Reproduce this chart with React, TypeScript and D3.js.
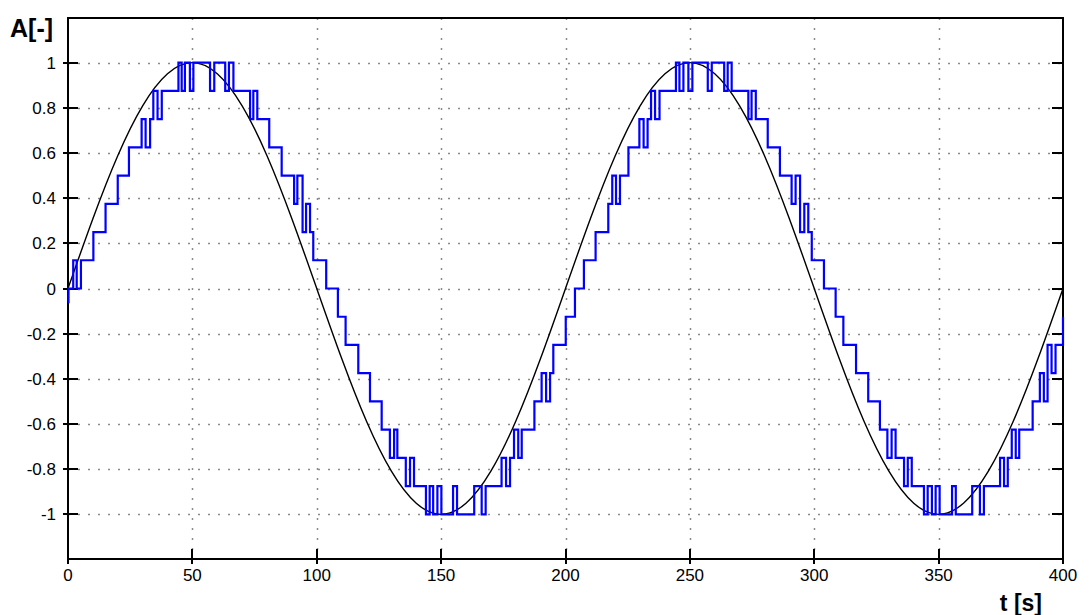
import React from "react";
import * as d3 from "d3";

// Axis ticks and their labels
const xTicks = [0, 50, 100, 150, 200, 250, 300, 350, 400];
const xTickLabels = ["0", "50", "100", "150", "200", "250", "300", "350", "400"];
const yTicks = [-1, -0.8, -0.6, -0.4, -0.2, 0, 0.2, 0.4, 0.6, 0.8, 1];
const yTickLabels = ["-1", "-0.8", "-0.6", "-0.4", "-0.2", "0", "0.2", "0.4", "0.6", "0.8", "1"];

// Reference sine, sampled every 10 s
const sineTimes = [
  0, 10, 20, 30, 40, 50, 60, 70, 80, 90, 100, 110, 120, 130, 140, 150, 160, 170, 180, 190,
  200, 210, 220, 230, 240, 250, 260, 270, 280, 290, 300, 310, 320, 330, 340, 350, 360, 370, 380, 390, 400,
];
const sineValues = [
  0, 0.309, 0.588, 0.809, 0.951, 1, 0.951, 0.809, 0.588, 0.309,
  0, -0.309, -0.588, -0.809, -0.951, -1, -0.951, -0.809, -0.588, -0.309,
  0, 0.309, 0.588, 0.809, 0.951, 1, 0.951, 0.809, 0.588, 0.309,
  0, -0.309, -0.588, -0.809, -0.951, -1, -0.951, -0.809, -0.588, -0.309, 0,
];

// Quantized output: switching instants [s] and the level held after each
const stepTimes = [
  0, 0.2, 2.1, 3.5, 5.2, 10.2, 15.1, 20.0, 24.5, 29.6, 31.2, 33.0, 34.3, 36.0, 37.7,
  44.4, 45.7, 47.0, 49.0, 50.4, 57.1, 58.8, 63.2, 64.7, 66.5, 73.2, 74.5, 76.1, 80.9, 85.9,
  90.9, 92.2, 94.3, 95.7, 97.3, 98.6, 103.8, 108.5, 111.6, 116.7, 121.4, 126.1, 129.4, 131.1, 132.4,
  135.8, 137.5, 139.1, 143.9, 145.4, 146.8, 148.5, 150.1, 154.8, 156.4, 163.3, 166.3, 167.9,
  174.3, 176.1, 177.7, 179.3, 181.0, 182.4, 187.5, 190.4, 192.2, 193.8, 195.1, 200.1, 203.8,
  207.4, 212.1, 217.2, 218.8, 220.3, 221.9, 225.3, 229.7, 231.4, 233.0, 234.4, 236.0, 237.8,
  244.4, 245.8, 247.4, 249.4, 251.0, 257.2, 258.8, 263.8, 265.2, 266.8, 273.5, 274.8, 276.5,
  281.3, 286.2, 290.9, 292.5, 294.3, 296.0, 297.6, 299.0, 303.9, 308.6, 311.7, 316.8, 321.7,
  326.4, 329.4, 331.1, 332.7, 336.1, 337.6, 339.2, 344.1, 345.6, 347.3, 348.8, 350.4, 355.4,
  356.9, 363.5, 366.6, 368.2, 374.7, 376.3, 377.8, 379.4, 381.0, 382.4, 387.8, 390.7, 392.3,
  393.8, 395.4, 397.0, 400,
];
const stepValues = [
  -0.06, 0, 0.125, 0, 0.125, 0.25, 0.375, 0.5, 0.625, 0.75, 0.625, 0.75, 0.875, 0.75, 0.875,
  1, 0.875, 1, 0.875, 1, 0.875, 1, 0.875, 1, 0.875, 0.75, 0.875, 0.75, 0.625, 0.5,
  0.375, 0.5, 0.25, 0.375, 0.25, 0.125, 0, -0.125, -0.25, -0.375, -0.5, -0.625, -0.75, -0.625, -0.75,
  -0.875, -0.75, -0.875, -1, -0.875, -1, -0.875, -1, -0.875, -1, -0.875, -1, -0.875,
  -0.75, -0.875, -0.75, -0.625, -0.75, -0.625, -0.5, -0.375, -0.5, -0.375, -0.25, -0.125, 0,
  0.125, 0.25, 0.375, 0.5, 0.375, 0.5, 0.625, 0.75, 0.625, 0.75, 0.875, 0.75, 0.875,
  1, 0.875, 1, 0.875, 1, 0.875, 1, 0.875, 1, 0.875, 0.75, 0.875, 0.75,
  0.625, 0.5, 0.375, 0.5, 0.25, 0.375, 0.25, 0.125, 0, -0.125, -0.25, -0.375, -0.5,
  -0.625, -0.75, -0.625, -0.75, -0.875, -0.75, -0.875, -1, -0.875, -1, -0.875, -1, -0.875,
  -1, -0.875, -1, -0.875, -0.75, -0.875, -0.75, -0.625, -0.75, -0.625, -0.5, -0.375, -0.5,
  -0.25, -0.375, -0.25, -0.125,
];

const W = 1090;
const H = 615;
const FONT = "'Liberation Sans', Arial, sans-serif";

export default function App() {
  const x = d3.scaleLinear().domain([0, 400]).range([68, 1063]);
  const y = d3.scaleLinear().domain([-1.2, 1.2]).range([559.5, 17.5]);
  const px = (v: number) => Math.round(v) + 0.5;

  const sinePath = d3
    .line<number>()
    .x((_, i) => x(sineTimes[i]))
    .y((d) => y(d))
    .curve(d3.curveNatural)(sineValues) as string;

  const stepPath = d3
    .line<number>()
    .x((_, i) => x(stepTimes[i]))
    .y((d) => y(d))
    .curve(d3.curveStepAfter)(stepValues) as string;

  const [x0, x1] = x.range();
  const top = 18;
  const bottom = 559;

  return (
    <svg
      width={W}
      height={H}
      style={{ position: "absolute", left: 0, top: 0, background: "#fff" }}
      fontFamily={FONT}
    >
      <rect x={0} y={0} width={W} height={H} fill="#fff" />

      {/* dotted grid */}
      <g stroke="#8a8a8a" strokeWidth={1.5} strokeDasharray="2 8">
        {yTicks.map((t) => (
          <line key={"gy" + t} x1={x0} x2={x1} y1={px(y(t))} y2={px(y(t))} />
        ))}
        {xTicks.slice(1, -1).map((t) => (
          <line key={"gx" + t} x1={px(x(t))} x2={px(x(t))} y1={top} y2={bottom} />
        ))}
      </g>

      {/* frame */}
      <rect x={x0} y={top} width={x1 - x0} height={bottom - top} fill="none" stroke="#000" strokeWidth={2} />

      {/* ticks */}
      <g stroke="#000" strokeWidth={2}>
        {yTicks.map((t) => (
          <g key={"ty" + t}>
            <line x1={x0 - 5} x2={x0 + 10} y1={Math.round(y(t))} y2={Math.round(y(t))} />
            <line x1={x1 - 11} x2={x1} y1={Math.round(y(t))} y2={Math.round(y(t))} />
          </g>
        ))}
        {xTicks.map((t) => (
          <line key={"tx" + t} x1={Math.round(x(t))} x2={Math.round(x(t))} y1={bottom - 10} y2={bottom + 5} />
        ))}
      </g>

      {/* tick labels */}
      <g fontSize={17} fill="#000">
        {yTicks.map((t, i) => (
          <text key={"ly" + t} x={56} y={y(t)} dy="0.36em" textAnchor="end">
            {yTickLabels[i]}
          </text>
        ))}
        {xTicks.map((t, i) => (
          <text key={"lx" + t} x={x(t)} y={581} textAnchor="middle">
            {xTickLabels[i]}
          </text>
        ))}
      </g>

      {/* axis titles */}
      <text x={10} y={37} fontSize={25} fontWeight="bold">
        A[-]
      </text>
      <text x={1042} y={611} fontSize={23} fontWeight="bold" textAnchor="end">
        t [s]
      </text>

      {/* curves */}
      <path d={sinePath} fill="none" stroke="#000" strokeWidth={1.4} />
      <path d={stepPath} fill="none" stroke="#0000ff" strokeWidth={2.2} strokeLinejoin="miter" />
    </svg>
  );
}
